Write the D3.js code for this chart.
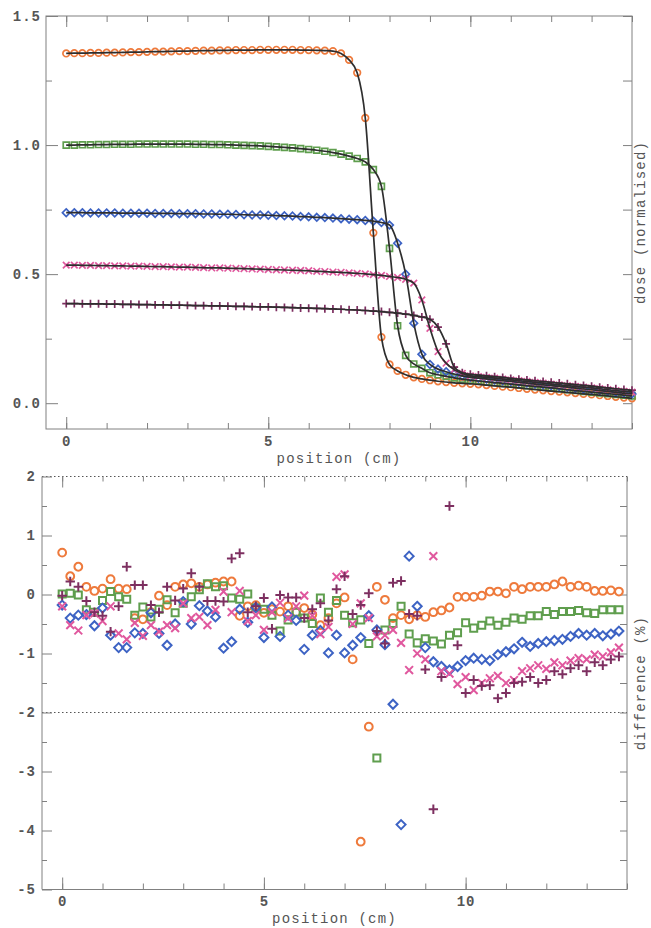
<!DOCTYPE html>
<html><head><meta charset="utf-8">
<script src="https://cdn.jsdelivr.net/npm/d3@7"></script>
<style>
body{margin:0;background:#fff}
text{font-family:"Liberation Mono","DejaVu Sans Mono",monospace;fill:#555}
</style>
</head><body>
<svg id="c" width="651" height="928"></svg>
<script>
// ---------- DATA ----------
const seriesNames = ["orange","green","blue","pink","purple"];
const seriesColors = ["#ee7a3c","#5f9e4e","#3d63c4","#e0589e","#7d2f60"];
const seriesMarkers = ["circle","square","diamond","times","plus"];

// top panel positions (cm)
const dosePositions = [0,0.2,0.4,0.6,0.8,1.0,1.2,1.4,1.6,1.8,2.0,2.2,2.4,2.6,2.8,3.0,3.2,3.4,3.6,3.8,
 4.0,4.2,4.4,4.6,4.8,5.0,5.2,5.4,5.6,5.8,6.0,6.2,6.4,6.6,6.8,7.0,7.2,7.4,7.6,7.8,
 8.0,8.2,8.4,8.6,8.8,9.0,9.2,9.4,9.6,9.8,10.0,10.2,10.4,10.6,10.8,11.0,11.2,11.4,11.6,11.8,
 12.0,12.2,12.4,12.6,12.8,13.0,13.2,13.4,13.6,13.8,14.0];

const doseOrange = [1.355,1.356,1.356,1.357,1.357,1.358,1.358,1.359,1.360,1.360,
 1.361,1.362,1.362,1.363,1.364,1.364,1.365,1.366,1.366,1.367,
 1.367,1.368,1.368,1.368,1.369,1.369,1.369,1.369,1.369,1.368,
 1.368,1.367,1.366,1.364,1.355,1.330,1.280,1.105,0.660,0.256,
 0.150,0.125,0.110,0.100,0.094,0.089,0.085,0.082,0.079,0.077,
 0.075,0.073,0.070,0.067,0.064,0.062,0.059,0.056,0.053,0.050,
 0.047,0.045,0.042,0.039,0.036,0.034,0.031,0.028,0.025,0.022,0.019];
const doseGreen = [1.000,1.000,1.001,1.001,1.002,1.002,1.003,1.003,1.003,1.004,
 1.004,1.004,1.004,1.004,1.004,1.004,1.003,1.003,1.002,1.002,
 1.001,1.000,0.999,0.998,0.997,0.995,0.993,0.991,0.989,0.986,
 0.983,0.980,0.976,0.971,0.965,0.957,0.948,0.935,0.905,0.840,
 0.600,0.300,0.185,0.152,0.135,0.118,0.110,0.104,0.098,0.093,
 0.089,0.086,0.083,0.080,0.077,0.074,0.071,0.068,0.065,0.062,
 0.059,0.056,0.052,0.049,0.046,0.043,0.040,0.037,0.034,0.031,0.028];
const doseBlue = [0.738,0.738,0.738,0.737,0.737,0.737,0.737,0.736,0.736,0.736,
 0.736,0.735,0.735,0.735,0.734,0.734,0.734,0.733,0.733,0.732,
 0.732,0.731,0.730,0.729,0.729,0.728,0.727,0.726,0.725,0.723,
 0.722,0.720,0.719,0.717,0.715,0.713,0.711,0.708,0.705,0.700,
 0.690,0.620,0.500,0.310,0.190,0.150,0.132,0.122,0.113,0.106,
 0.100,0.097,0.094,0.090,0.087,0.084,0.081,0.078,0.074,0.071,
 0.068,0.065,0.062,0.058,0.055,0.052,0.049,0.046,0.042,0.039,0.036];
const dosePink = [0.535,0.535,0.534,0.534,0.533,0.533,0.532,0.532,0.531,0.531,
 0.530,0.529,0.529,0.528,0.527,0.527,0.526,0.525,0.524,0.524,
 0.523,0.522,0.521,0.520,0.519,0.518,0.517,0.516,0.515,0.514,
 0.513,0.511,0.510,0.508,0.507,0.505,0.503,0.501,0.498,0.495,
 0.491,0.487,0.480,0.465,0.400,0.290,0.200,0.155,0.130,0.115,
 0.106,0.103,0.100,0.097,0.093,0.090,0.087,0.084,0.081,0.078,
 0.074,0.071,0.068,0.065,0.062,0.059,0.056,0.052,0.049,0.046,0.043];
const dosePurple = [0.386,0.386,0.385,0.385,0.385,0.384,0.384,0.383,0.383,0.382,
 0.382,0.381,0.381,0.380,0.380,0.379,0.378,0.378,0.377,0.377,
 0.376,0.375,0.375,0.374,0.373,0.373,0.372,0.371,0.370,0.369,
 0.368,0.367,0.366,0.365,0.364,0.362,0.361,0.359,0.357,0.355,
 0.352,0.349,0.345,0.340,0.334,0.325,0.295,0.230,0.140,0.118,
 0.112,0.109,0.106,0.103,0.100,0.096,0.093,0.090,0.087,0.084,
 0.081,0.078,0.075,0.072,0.069,0.066,0.062,0.059,0.056,0.053,0.050];

// bottom panel positions (cm)
const diffPositions = [0,0.2,0.4,0.6,0.8,1.0,1.2,1.4,1.6,1.8,2.0,2.2,2.4,2.6,2.8,3.0,3.2,3.4,3.6,3.8,
 4.0,4.2,4.4,4.6,4.8,5.0,5.2,5.4,5.6,5.8,6.0,6.2,6.4,6.6,6.8,7.0,7.2,7.4,7.6,7.8,
 8.0,8.2,8.4,8.6,8.8,9.0,9.2,9.4,9.6,9.8,10.0,10.2,10.4,10.6,10.8,11.0,11.2,11.4,11.6,11.8,
 12.0,12.2,12.4,12.6,12.8,13.0,13.2,13.4,13.6,13.8];

const diffOrange = [0.71,0.31,0.47,0.13,0.06,0.10,0.26,0.10,0.09,-0.40,
 -0.42,-0.30,-0.02,-0.18,0.13,0.17,0.19,0.13,0.17,0.20,
 0.22,0.22,-0.36,-0.20,-0.18,-0.31,-0.25,-0.29,-0.20,-0.30,
 -0.23,-0.34,-0.52,-0.40,-0.15,-0.05,-1.10,-4.19,-2.24,0.13,
 -0.09,-0.40,-0.35,-0.42,-0.35,-0.38,-0.30,-0.27,-0.22,-0.04,
 -0.04,-0.04,-0.02,0.05,0.05,0.02,0.13,0.09,0.13,0.13,
 0.13,0.17,0.22,0.13,0.15,0.13,0.06,0.06,0.07,0.05];
const diffGreen = [0.01,0.02,-0.01,-0.26,-0.30,-0.10,0.05,-0.04,-0.08,-0.35,
 -0.21,-0.38,-0.25,-0.09,-0.31,-0.15,-0.04,0.08,0.18,0.13,
 0.15,-0.06,-0.08,0.01,-0.23,-0.25,-0.35,-0.62,-0.43,-0.30,
 -0.40,-0.49,-0.06,-0.30,-0.10,-0.35,-0.48,-0.43,-0.83,-2.77,
 -0.60,-0.49,-0.20,-0.67,-0.82,-0.75,-0.79,-0.84,-0.69,-0.65,
 -0.48,-0.57,-0.52,-0.45,-0.52,-0.47,-0.40,-0.42,-0.36,-0.36,
 -0.29,-0.34,-0.29,-0.29,-0.27,-0.31,-0.32,-0.26,-0.26,-0.26];
const diffBlue = [-0.18,-0.40,-0.35,-0.34,-0.53,-0.23,-0.69,-0.90,-0.90,-0.65,
 -0.66,-0.31,-0.66,-0.86,-0.50,-0.12,-0.50,-0.19,-0.28,-0.38,
 -0.91,-0.80,-0.25,-0.47,-0.22,-0.73,-0.21,-0.71,-0.35,-0.44,
 -0.93,-0.69,-0.61,-0.99,-0.69,-0.99,-0.86,-0.73,-0.36,-0.60,
 -0.85,-1.86,-3.90,0.65,-0.20,-0.90,-1.14,-1.22,-1.28,-1.22,
 -1.12,-1.08,-1.10,-1.12,-1.02,-0.97,-0.92,-0.81,-0.88,-0.83,
 -0.80,-0.78,-0.76,-0.71,-0.66,-0.69,-0.66,-0.70,-0.67,-0.62];
const diffPink = [-0.20,-0.52,-0.61,-0.35,-0.32,-0.45,-0.20,-0.66,-0.76,-0.48,
 -0.70,-0.52,-0.63,-0.52,-0.57,-0.15,-0.40,-0.38,-0.52,-0.26,
 0.05,-0.30,0.06,-0.45,-0.35,-0.60,-0.30,-0.14,-0.40,-0.20,
 -0.02,-0.36,-0.67,-0.55,0.30,0.34,-0.50,-0.15,-0.40,-0.71,
 -0.69,-0.60,-0.82,-1.28,-1.00,-1.10,0.65,-1.30,-1.34,-1.52,
 -1.40,-1.62,-1.50,-1.42,-1.38,-1.50,-1.45,-1.30,-1.25,-1.20,
 -1.26,-1.15,-1.20,-1.12,-1.08,-1.10,-1.02,-1.05,-0.98,-0.90];
const diffPurple = [-0.02,0.22,0.13,-0.11,-0.30,-0.36,-0.63,-0.20,0.47,0.16,
 0.16,-0.18,-0.30,0.13,-0.10,0.10,0.36,0.13,-0.11,-0.11,
 -0.12,0.61,0.70,-0.30,-0.20,-0.06,-0.58,-0.01,-0.05,-0.05,
 -0.40,-0.25,-0.15,-0.44,0.09,0.31,-0.33,-0.18,0.02,-0.62,
 -0.83,0.20,0.23,-0.33,-0.36,-1.27,-3.64,-1.40,1.50,-0.86,
 -1.67,-1.45,-1.55,-1.54,-1.76,-1.67,-1.50,-1.48,-1.40,-1.50,
 -1.45,-1.30,-1.35,-1.25,-1.20,-1.30,-1.15,-1.20,-1.10,-1.05];

const doseYTicks = [0, 0.5, 1.0, 1.5];
const doseYMinor = [0.25, 0.75, 1.25];
const xMajorTicks = [0, 5, 10];
const xMinorTicks = [0,1,2,3,4,5,6,7,8,9,10,11,12,13,14];
const diffYTicks = [-5,-4,-3,-2,-1,0,1,2];
const diffYMinor = [-4.5,-3.5,-2.5,-1.5,-0.5,0.5,1.5];
const diffRightTicks = [-4.5,-4,-3.5,-3,-2.5,-2,-1.5,-1,-0.5,0,0.5,1,1.5];
const diffRefLines = [2, -2];

const doseSeries = [doseOrange, doseGreen, doseBlue, dosePink, dosePurple];
const diffSeries = [diffOrange, diffGreen, diffBlue, diffPink, diffPurple];

// ---------- DRAW ----------
const svg = d3.select("#c");
const axisCol = "#808080";

function markerPath(type, r){
  const p = d3.path();
  if(type==="circle"){ p.moveTo(r,0); p.arc(0,0,r,0,2*Math.PI); }
  else if(type==="square"){ p.rect(-r*0.9,-r*0.9,r*1.8,r*1.8); }
  else if(type==="diamond"){ p.moveTo(0,-r*1.15); p.lineTo(r*1.15,0); p.lineTo(0,r*1.15); p.lineTo(-r*1.15,0); p.closePath(); }
  else if(type==="times"){ p.moveTo(-r,-r); p.lineTo(r,r); p.moveTo(-r,r); p.lineTo(r,-r); }
  else { const q=r*1.2; p.moveTo(-q,0); p.lineTo(q,0); p.moveTo(0,-q); p.lineTo(0,q); }
  return p.toString();
}

function styleAxis(g){
  g.select(".domain").remove();
  g.selectAll(".tick line").attr("stroke", axisCol).attr("stroke-width",1);
  g.selectAll(".tick text").style("font-family",'"Liberation Mono","DejaVu Sans Mono",monospace')
   .style("font-size","14px").style("letter-spacing","1px").attr("fill","#555").style("font-weight","bold");
}

// ===== Top panel =====
const T = {l:46, r:632, t:16, b:429};
const xT = d3.scaleLinear().domain([-0.5,14]).range([T.l, T.r]);
const yT = d3.scaleLinear().domain([-0.1,1.5]).range([T.b, T.t]);

const gT = svg.append("g");
gT.append("rect").attr("x",T.l).attr("y",T.t).attr("width",T.r-T.l).attr("height",T.b-T.t)
  .attr("fill","none").attr("stroke",axisCol).attr("stroke-width",1);

gT.append("g").attr("transform",`translate(0,${T.b})`)
  .call(d3.axisBottom(xT).tickValues(xMinorTicks).tickSize(-6).tickFormat("")).call(styleAxis);
gT.append("g").attr("transform",`translate(0,${T.b})`)
  .call(d3.axisBottom(xT).tickValues(xMajorTicks).tickSize(-12).tickPadding(7).tickFormat(d3.format("d"))).call(styleAxis);
gT.append("g").attr("transform",`translate(0,${T.t})`)
  .call(d3.axisTop(xT).tickValues(xMinorTicks).tickSize(-6).tickFormat("")).call(styleAxis);
gT.append("g").attr("transform",`translate(0,${T.t})`)
  .call(d3.axisTop(xT).tickValues(xMajorTicks).tickSize(-11).tickFormat("")).call(styleAxis);
gT.append("g").attr("transform",`translate(${T.l},0)`)
  .call(d3.axisLeft(yT).tickValues(doseYTicks).tickSize(-12).tickPadding(5).tickFormat(d3.format(".1f"))).call(styleAxis);
gT.append("g").attr("transform",`translate(${T.l},0)`)
  .call(d3.axisLeft(yT).tickValues(doseYMinor).tickSize(-6).tickFormat("")).call(styleAxis);
gT.append("g").attr("transform",`translate(${T.r},0)`)
  .call(d3.axisRight(yT).tickValues(doseYTicks.concat(doseYMinor)).tickSize(-9).tickFormat("")).call(styleAxis);

seriesNames.forEach((name,si)=>{
  const vals = doseSeries[si];
  gT.append("g").selectAll("path").data(vals).join("path")
    .attr("d", markerPath(seriesMarkers[si], 3.3))
    .attr("transform",(d,i)=>`translate(${xT(dosePositions[i])},${yT(d)})`)
    .attr("fill","none").attr("stroke",seriesColors[si]).attr("stroke-width",1.7);
});
const lineT = d3.line().x((d,i)=>xT(dosePositions[i])).y(d=>yT(d)).curve(d3.curveMonotoneX);
seriesNames.forEach((name,si)=>{
  gT.append("path").attr("d", lineT(doseSeries[si])).attr("fill","none")
    .attr("stroke","#2e2e2e").attr("stroke-width",1.7);
});
gT.append("text").attr("x",(T.l+T.r)/2).attr("y",463).attr("text-anchor","middle")
  .style("font-size","14px").style("letter-spacing","1.2px").text("position (cm)");
gT.append("text").attr("transform",`translate(645,${(T.t+T.b)/2}) rotate(-90)`).attr("text-anchor","middle")
  .style("font-size","14px").style("letter-spacing","1.2px").text("dose (normalised)");

// ===== Bottom panel =====
const B = {l:42, r:627, t:476.5, b:889.5};
const xB = d3.scaleLinear().domain([-0.5,14]).range([B.l, B.r]);
const yB = d3.scaleLinear().domain([-5,2]).range([B.b, B.t]);
const gB = svg.append("g");
gB.append("line").attr("x1",B.l).attr("x2",B.l).attr("y1",B.t).attr("y2",B.b).attr("stroke",axisCol);
gB.append("line").attr("x1",B.r).attr("x2",B.r).attr("y1",B.t).attr("y2",B.b).attr("stroke",axisCol);
gB.append("line").attr("x1",B.l).attr("x2",B.r).attr("y1",B.b).attr("y2",B.b).attr("stroke",axisCol);
gB.selectAll("line.ref").data(diffRefLines).join("line").attr("class","ref")
  .attr("x1",B.l).attr("x2",B.r).attr("y1",d=>yB(d)).attr("y2",d=>yB(d))
  .attr("stroke","#555").attr("stroke-width",1.2).attr("stroke-dasharray","1.5,2.5");

gB.append("g").attr("transform",`translate(0,${B.b})`)
  .call(d3.axisBottom(xB).tickValues(xMinorTicks).tickSize(-6).tickFormat("")).call(styleAxis);
gB.append("g").attr("transform",`translate(0,${B.b})`)
  .call(d3.axisBottom(xB).tickValues(xMajorTicks).tickSize(-12).tickPadding(7).tickFormat(d3.format("d"))).call(styleAxis);
gB.append("g").attr("transform",`translate(0,${B.t})`)
  .call(d3.axisTop(xB).tickValues(xMinorTicks).tickSize(-5).tickFormat("")).call(styleAxis);
gB.append("g").attr("transform",`translate(0,${B.t})`)
  .call(d3.axisTop(xB).tickValues(xMajorTicks).tickSize(-11).tickFormat("")).call(styleAxis);
gB.append("g").attr("transform",`translate(${B.l},0)`)
  .call(d3.axisLeft(yB).tickValues(diffYTicks).tickSize(-10).tickPadding(6).tickFormat(d=>String(d))).call(styleAxis);
gB.append("g").attr("transform",`translate(${B.l},0)`)
  .call(d3.axisLeft(yB).tickValues(diffYMinor).tickSize(-5).tickFormat("")).call(styleAxis);
gB.append("g").attr("transform",`translate(${B.r},0)`)
  .call(d3.axisRight(yB).tickValues(diffRightTicks).tickSize(-7).tickFormat("")).call(styleAxis);

seriesNames.forEach((name,si)=>{
  const vals = diffSeries[si];
  gB.append("g").selectAll("path").data(vals).join("path")
    .attr("d", markerPath(seriesMarkers[si], 3.9))
    .attr("transform",(d,i)=>`translate(${xB(diffPositions[i])},${yB(d)})`)
    .attr("fill","none").attr("stroke",seriesColors[si]).attr("stroke-width",2);
});
gB.append("text").attr("x",(B.l+B.r)/2).attr("y",923).attr("text-anchor","middle")
  .style("font-size","14px").style("letter-spacing","1.2px").text("position (cm)");
gB.append("text").attr("transform",`translate(645,${(B.t+B.b)/2}) rotate(-90)`).attr("text-anchor","middle")
  .style("font-size","14px").style("letter-spacing","1.2px").text("difference (%)");
</script>
</body></html>
